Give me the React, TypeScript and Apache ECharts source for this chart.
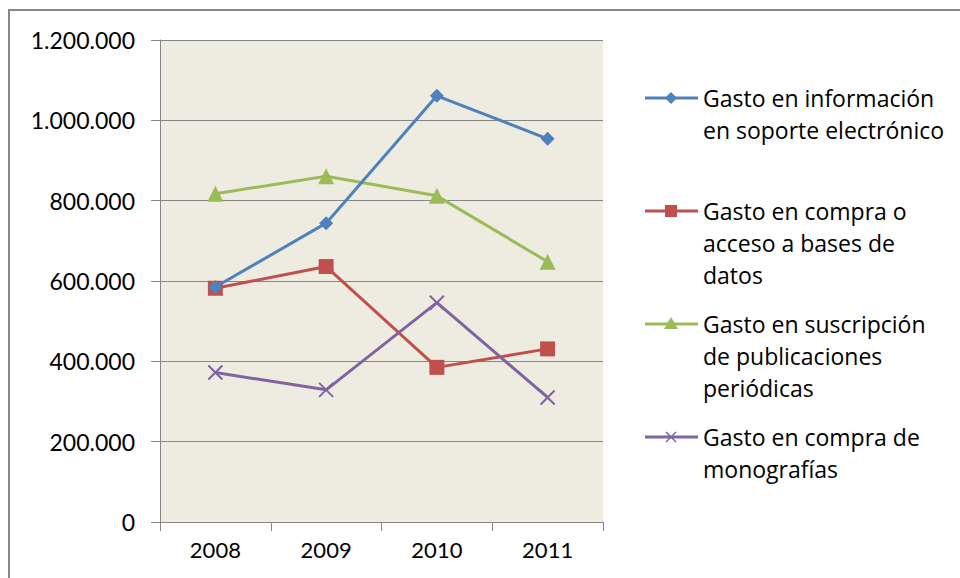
import React, { useEffect, useRef } from "react";
import * as echarts from "echarts";

const categories = ["2008", "2009", "2010", "2011"];
const seriesNames = [
  "Gasto en información\nen soporte electrónico",
  "Gasto en compra o\nacceso a bases de\ndatos",
  "Gasto en suscripción\nde publicaciones\nperiódicas",
  "Gasto en compra de\nmonografías",
];
const electronico = [585000, 744000, 1061000, 954000];
const basesDatos = [582000, 636000, 385000, 431000];
const publicaciones = [817000, 861000, 812000, 648000];
const monografias = [372000, 329000, 546000, 310000];
const colors = ["#4F81BD", "#C0504D", "#9BBB59", "#8064A2"];
const yTicks = { min: 0, max: 1200000, interval: 200000 };

const FONT = "Lato, 'Open Sans', sans-serif";
const LEGEND_FONT = "'Open Sans', Lato, sans-serif";

function fmt(v: number): string {
  return String(v).replace(/\B(?=(\d{3})+(?!\d))/g, ".");
}

export default function App() {
  const ref = useRef<HTMLDivElement>(null);
  useEffect(() => {
    if (!ref.current) return;
    const chart = echarts.init(ref.current, null, { renderer: "svg" });
    const crossPath = "path://M0,0L10,10M10,0L0,10";
    const symbols = ["diamond", "rect", "triangle", crossPath];
    const sizes = [14, 15, 16, 14];
    const data = [electronico, basesDatos, publicaciones, monografias];

    const legendY = [98, 211, 324, 437];
    const legendGraphics: any[] = [];
    legendY.forEach((y, i) => {
      const c = colors[i];
      legendGraphics.push({
        type: "line",
        shape: { x1: 645, y1: y, x2: 698, y2: y },
        style: { stroke: c, lineWidth: 3 },
      });
      const cx = 671;
      if (i === 0) {
        legendGraphics.push({
          type: "polygon",
          shape: { points: [[cx, y - 6], [cx + 6, y], [cx, y + 6], [cx - 6, y]] },
          style: { fill: c },
        });
      } else if (i === 1) {
        legendGraphics.push({
          type: "rect",
          shape: { x: cx - 6, y: y - 6, width: 12, height: 12 },
          style: { fill: c },
        });
      } else if (i === 2) {
        legendGraphics.push({
          type: "polygon",
          shape: { points: [[cx, y - 7], [cx + 7, y + 5], [cx - 7, y + 5]] },
          style: { fill: c },
        });
      } else {
        legendGraphics.push({
          type: "line",
          shape: { x1: cx - 5, y1: y - 5, x2: cx + 5, y2: y + 5 },
          style: { stroke: c, lineWidth: 1.5 },
        });
        legendGraphics.push({
          type: "line",
          shape: { x1: cx + 5, y1: y - 5, x2: cx - 5, y2: y + 5 },
          style: { stroke: c, lineWidth: 1.5 },
        });
      }
      legendGraphics.push({
        type: "text",
        x: 703,
        y: y - 16,
        style: {
          text: seriesNames[i],
          font: `23px ${LEGEND_FONT}`,
          fill: "#000",
          lineHeight: 32,
          verticalAlign: "top",
          align: "left",
        },
      });
    });

    chart.setOption({
      animation: false,
      backgroundColor: "#ffffff",
      grid: { left: 160, right: 357, top: 40, bottom: 56, show: true, backgroundColor: "#EEECE1", borderWidth: 0 },
      xAxis: {
        type: "category",
        data: categories,
        boundaryGap: true,
        axisLine: { show: true, lineStyle: { color: "#868686", width: 1 } },
        axisTick: { show: true, length: 9, lineStyle: { color: "#868686" } },
        axisLabel: { color: "#000", fontSize: 22, fontFamily: FONT, margin: 16 },
        splitLine: { show: false },
      },
      yAxis: {
        type: "value",
        min: yTicks.min,
        max: yTicks.max,
        interval: yTicks.interval,
        axisLine: { show: true, lineStyle: { color: "#868686", width: 1 } },
        axisTick: { show: true, length: 9, lineStyle: { color: "#868686" } },
        axisLabel: { color: "#000", fontSize: 23, fontFamily: FONT, margin: 25, formatter: (v: number) => fmt(v) },
        splitLine: { show: true, lineStyle: { color: "#868686", width: 1 } },
      },
      graphic: [
        {
          type: "rect",
          shape: { x: 9, y: 10, width: 1000, height: 700 },
          style: { fill: "none", stroke: "#888888", lineWidth: 2 },
          z: 100,
        },
        ...legendGraphics,
      ],
      series: data.map((d, i) => ({
        type: "line",
        name: seriesNames[i],
        data: d,
        symbol: symbols[i],
        symbolSize: sizes[i],
        showAllSymbol: true,
        lineStyle: { color: colors[i], width: 3 },
        itemStyle:
          i === 3
            ? { color: colors[i], borderColor: colors[i], borderWidth: 2 }
            : { color: colors[i], borderWidth: 0 },
        z: 2 + (i === 0 ? 3 : i),
      })),
    });
    return () => chart.dispose();
  }, []);
  return (
    <div
      ref={ref}
      style={{ position: "fixed", left: 0, top: 0, width: 960, height: 578 }}
    />
  );
}
